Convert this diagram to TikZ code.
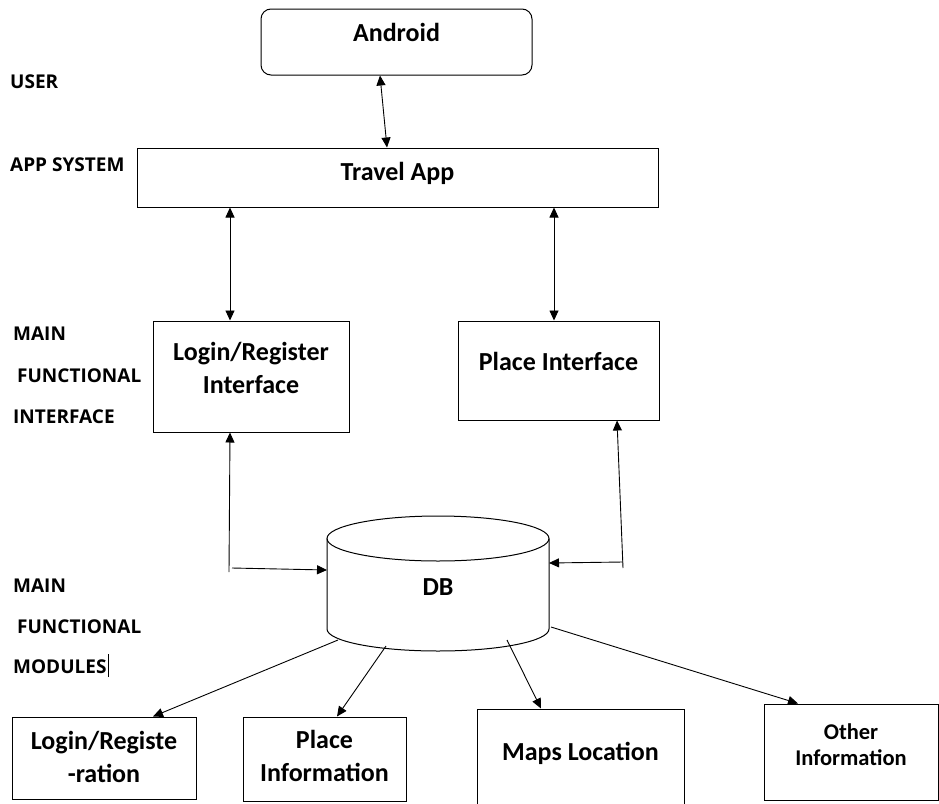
\documentclass[tikz,border=0pt]{standalone}
\usepackage{fontspec}
\setmainfont{Carlito}
\newfontfamily\labfont{Open Sans}
\usetikzlibrary{arrows.meta}
\begin{document}
\begin{tikzpicture}[x=1pt,y=-1pt,
  >={Triangle[length=10pt,width=9pt]},
  box/.style={draw, line width=1pt, inner sep=0pt},
  txt/.style={font=\bfseries\fontsize{26}{33}\selectfont, align=center, anchor=base, inner sep=0pt},
  txts/.style={font=\bfseries\fontsize{22.5}{26}\selectfont, align=center, anchor=base, inner sep=0pt},
  lab/.style={font=\labfont\bfseries\fontsize{19}{22}\selectfont, anchor=base west, inner sep=0pt},
  conn/.style={line width=0.9pt}]
\useasboundingbox[fill=white] (0,0) rectangle (939,803);

% boxes
\node[box, rounded corners=10pt, minimum width=271pt, minimum height=66pt] (android) at (396.5,42) {};
\node[box, minimum width=521pt, minimum height=59pt] (travel) at (397.5,177.5) {};
\node[box, minimum width=196pt, minimum height=111pt] (login) at (251,376.5) {};
\node[box, minimum width=201pt, minimum height=99pt] (place) at (558.5,370.5) {};
\node[box, minimum width=184pt, minimum height=82pt] (b1) at (104,758) {};
\node[box, minimum width=163pt, minimum height=84pt] (b2) at (324.5,759) {};
\node[box, minimum width=207pt, minimum height=97pt] (b3) at (580.5,757.5) {};
\node[box, minimum width=174pt, minimum height=96pt] (b4) at (851,752) {};

% cylinder
\draw[line width=1pt] (438,538.5) ellipse [x radius=111, y radius=22.5];
\draw[line width=1pt] (327,538.5) -- (327,629) arc[start angle=180, end angle=0, x radius=111, y radius=22] -- (549,538.5);

% texts (base = last line)
\node[txt] (tandroid) at (396.5,41) {Android};
\node[txt] (ttravel) at (397.5,180) {Travel App};
\node[txt] (tlogin) at (251,393) {Login/Register\\Interface};
\node[txt] (tplace) at (558.5,370) {Place Interface};
\node[txt] (db) at (438,595) {DB};
\node[txt] (tb1) at (104,782) {Login/Registe\\-ration};
\node[txt] (tb2) at (324.5,781) {Place\\Information};
\node[txt] (tb3) at (580.5,760) {Maps Location};
\node[txts] (tb4) at (851,765) {Other\\Information};

% side labels
\node[lab] (l1) at (10,88) {USER};
\node[lab] (l2) at (10,171) {APP SYSTEM};
\node[lab] (l3) at (13,340) {MAIN};
\node[lab] (l4) at (17,382) {FUNCTIONAL};
\node[lab] (l5) at (13,423) {INTERFACE};
\node[lab] (l6) at (13,592) {MAIN};
\node[lab] (l7) at (17,633) {FUNCTIONAL};
\node[lab] (l8) at (13,673) {MODULES};
\draw[line width=0.8pt] ([xshift=2pt,yshift=-4pt]l8.base east) -- ([xshift=2pt,yshift=19pt]l8.base east);

% connector end points
\coordinate (lb) at (229,572);
\coordinate (lb2) at (232,568);
\coordinate (dbl) at (327,570);
\coordinate (pb) at (623,568);
\coordinate (pb2) at (623,562);
\coordinate (dbr) at (549,563);
\coordinate (d1) at (338,640);
\coordinate (d2) at (386,646);
\coordinate (d3) at (507,640);
\coordinate (d4) at (551,627);

% connectors
\draw[conn,<->] ([xshift=-16.5pt]android.south) -- ([xshift=-10.5pt]travel.north);
\draw[conn,<->] ([xshift=-167.5pt]travel.south) -- ([xshift=-21pt]login.north);
\draw[conn,<->] ([xshift=156.5pt]travel.south) -- ([xshift=-4.5pt]place.north);
\draw[conn,->] (lb) -- ([xshift=-21pt]login.south);
\draw[conn,->] (lb2) -- (dbl);
\draw[conn,->] (pb) -- ([xshift=58.5pt]place.south);
\draw[conn,->] (pb2) -- (dbr);
\draw[conn,->] (d1) -- ([xshift=49pt]b1.north);
\draw[conn,->] (d2) -- ([xshift=12.5pt]b2.north);
\draw[conn,->] (d3) -- ([xshift=-39.5pt]b3.north);
\draw[conn,->] (d4) -- ([xshift=-53pt]b4.north);
\end{tikzpicture}
\end{document}
